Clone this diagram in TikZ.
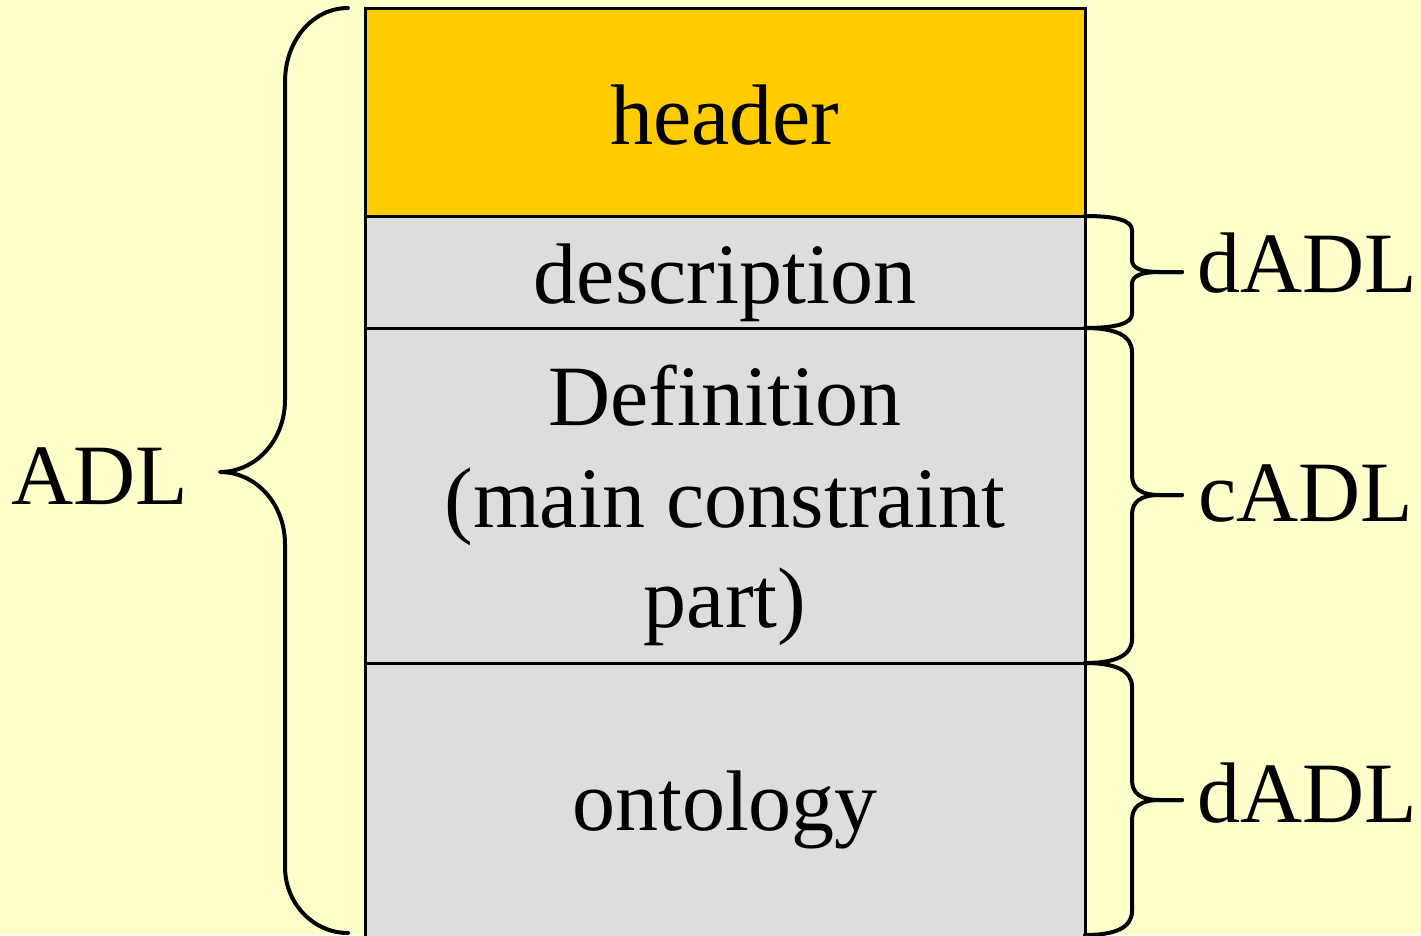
\documentclass[tikz,border=0pt]{standalone}
\usepackage{fontspec}
\setmainfont{Liberation Serif}
\definecolor{bgc}{HTML}{FFFFCC}
\definecolor{hdrc}{HTML}{FFCC00}
\definecolor{grayc}{HTML}{DDDDDD}
\newcommand\sidebrace[5]{%
  \draw[brc] (1085,#1) .. controls (1115,#1) and (1132,{#1+0.3*#4}) .. (1132,{#1+#4})
    -- (1132,{#2-#5}) .. controls (1132,{#2-0.35*#5}) and (1140,#2) .. (1160,#2) -- (1182,#2);
  \draw[brc] (1182,#2) -- (1160,#2) .. controls (1140,#2) and (1132,{#2+0.35*#5}) .. (1132,{#2+#5})
    -- (1132,{#3-#4}) .. controls (1132,{#3-0.3*#4}) and (1115,#3) .. (1085,#3);
}
\begin{document}
\begin{tikzpicture}[x=1pt,y=-1pt,
  blk/.style={draw=black,line width=3pt,minimum width=720pt,inner sep=0pt,outer sep=0pt},
  boxtxt/.style={anchor=base,inner sep=0pt,font=\fontsize{86}{101}\selectfont},
  sidetxt/.style={anchor=base west,inner sep=0pt,font=\fontsize{86}{101}\selectfont},
  brc/.style={line width=4pt,line cap=round,line join=round}]
\fill[bgc] (0,0) rectangle (1421,935);
\useasboundingbox (0,0) rectangle (1421,935);
% boxes
\node[blk,fill=hdrc,minimum height=208pt] (hdrbox) at (725,112) {};
\node[blk,fill=grayc,minimum height=112pt] (descbox) at (725,272) {};
\node[blk,fill=grayc,minimum height=335pt] (defbox) at (725,495.5) {};
\node[blk,fill=grayc,minimum height=282pt] (ontobox) at (725,804) {};
% box texts
\node[boxtxt] (hdrtxt) at (725,144) {header};
\node[boxtxt] (desctxt) at (725,303) {description};
\node[boxtxt] (deftxta) at (725,425) {Definition};
\node[boxtxt] (deftxtb) at (725,527) {(main constraint};
\node[boxtxt] (deftxtc) at (725,627) {part)};
\node[boxtxt] (ontotxt) at (725,830) {ontology};
% left brace
\draw[brc] (348,8) .. controls (313,8) and (285,40) .. (285,82) -- (285,400)
  .. controls (285,440) and (256,472) .. (220,472)
  .. controls (256,472) and (285,504) .. (285,544) -- (285,867)
  .. controls (285,903) and (313,933) .. (348,933);
\node[sidetxt] (adl) at (11,504) {ADL};
% right braces
\sidebrace{216}{272}{328}{14}{12}
\sidebrace{328}{495}{663}{24}{20}
\sidebrace{663}{800}{935}{24}{20}
\node[sidetxt] (dadla) at (1197,292) {dADL};
\node[sidetxt] (cadl) at (1198,521) {cADL};
\node[sidetxt] (dadlb) at (1197,822) {dADL};
\end{tikzpicture}
\end{document}
